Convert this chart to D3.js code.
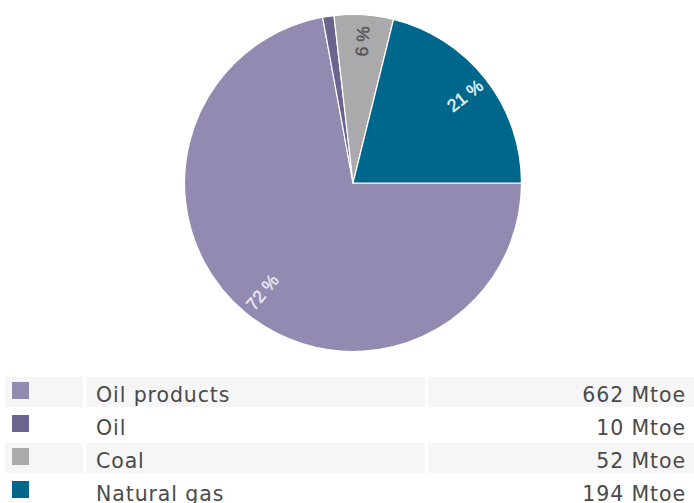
<!DOCTYPE html>
<html>
<head>
<meta charset="utf-8">
<script src="https://cdn.jsdelivr.net/npm/d3@7"></script>
<style>
  html, body { margin: 0; padding: 0; background: #fff; }
  svg { display: block; }
</style>
</head>
<body>
<svg id="chart" width="694" height="503"></svg>
<script>
// Energy consumption by source (Mtoe)
const categories = ["Oil products", "Oil", "Coal", "Natural gas"];
const values = [662, 10, 52, 194];
const unit = "Mtoe";
const colors = ["#928ab1", "#6c638e", "#aaaaad", "#00678c"];
const labelColors = ["#e8e6f0", "#e8e6f0", "#585858", "#e6eff3"];

const svg = d3.select("#chart");
const W = 694;

const total = d3.sum(values);
const data = categories.map((c, i) => ({ name: c, value: values[i], i }));

// ---- Pie ----
const cx = 353, cy = 183, R = 168.5, labelR = 142;

const pie = d3.pie()
  .value(d => d.value)
  .sort(null)
  .startAngle(Math.PI / 2)
  .endAngle(Math.PI / 2 + 2 * Math.PI);

const arc = d3.arc().innerRadius(0).outerRadius(R);
const arcs = pie(data);

const g = svg.append("g").attr("transform", `translate(${cx},${cy})`);

g.selectAll("path.slice")
  .data(arcs)
  .join("path")
  .attr("class", "slice")
  .attr("d", arc)
  .attr("fill", d => colors[d.data.i])
  .attr("stroke", "#ffffff")
  .attr("stroke-width", 1.2)
  .attr("stroke-linejoin", "round");

// Radial percentage labels, oriented to stay readable
const pct = d => Math.round(d.data.value / total * 100);
g.selectAll("text.pct")
  .data(arcs.filter(d => d.data.value / total >= 0.02))
  .join("text")
  .attr("class", "pct")
  .attr("transform", d => {
    const a = (d.startAngle + d.endAngle) / 2;
    const x = Math.sin(a) * labelR;
    const y = -Math.cos(a) * labelR;
    const deg = a * 180 / Math.PI % 360;
    const rot = deg <= 180 ? deg - 90 : deg - 270;
    return `translate(${x},${y}) rotate(${rot})`;
  })
  .attr("text-anchor", "middle")
  .attr("dy", "0.36em")
  .attr("font-family", "'Liberation Sans', Arial, sans-serif")
  .attr("font-size", 17.5)
  .attr("fill", d => labelColors[d.data.i])
  .attr("stroke", d => labelColors[d.data.i])
  .attr("stroke-width", 0.5)
  .text(d => pct(d) + " %");

// ---- Legend table ----
const rowTop = 377, rowStep = 33, rowH = 30;
const cells = [
  { x0: 5, x1: 83 },
  { x0: 86, x1: 425 },
  { x0: 428, x1: W }
];

const rows = svg.append("g").selectAll("g.row")
  .data(data)
  .join("g")
  .attr("class", "row")
  .attr("transform", (d, i) => `translate(0,${rowTop + i * rowStep})`);

rows.filter((d, i) => i % 2 === 0)
  .selectAll("rect.cell")
  .data(cells)
  .join("rect")
  .attr("class", "cell")
  .attr("x", c => c.x0)
  .attr("width", c => c.x1 - c.x0)
  .attr("y", 0)
  .attr("height", rowH)
  .attr("fill", "#f6f6f6");

rows.append("rect")
  .attr("x", 12)
  .attr("y", 5)
  .attr("width", 17)
  .attr("height", 17)
  .attr("fill", d => colors[d.i]);

const textStyle = sel => sel
  .attr("font-family", "'DejaVu Sans', Verdana, sans-serif")
  .attr("font-size", 20.5)
  .attr("letter-spacing", 0.9)
  .attr("fill", "#4a4a4a");

rows.append("text")
  .attr("x", 96)
  .attr("y", 24.5)
  .call(textStyle)
  .text(d => d.name);

rows.append("text")
  .attr("x", 686)
  .attr("y", 24.5)
  .attr("text-anchor", "end")
  .call(textStyle)
  .text(d => `${d.value} ${unit}`);
</script>
</body>
</html>
